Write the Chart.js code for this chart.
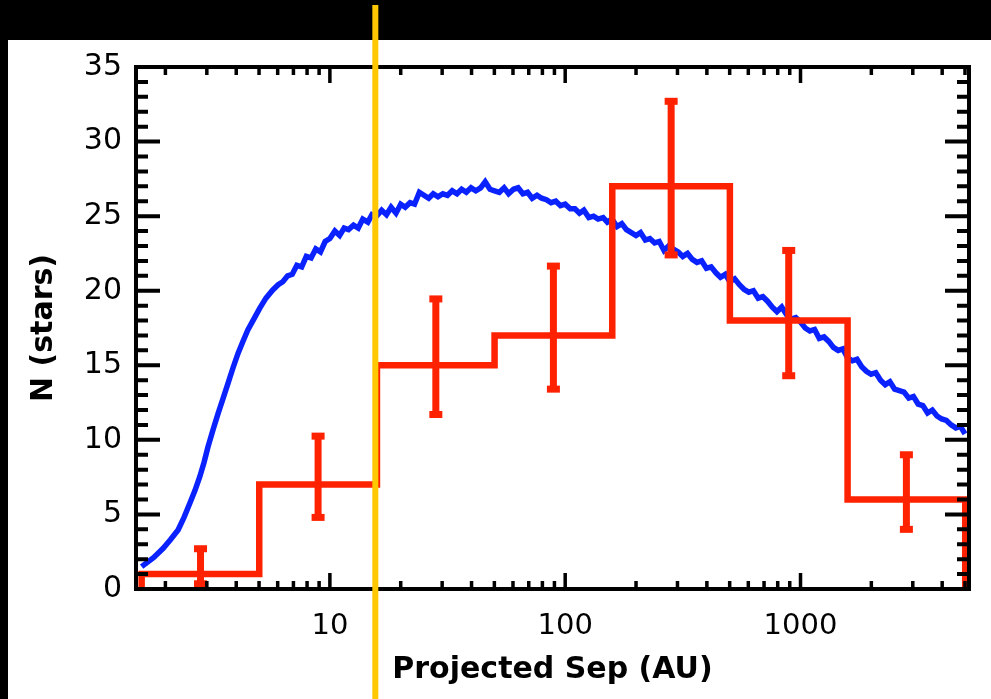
<!DOCTYPE html>
<html>
<head>
<meta charset="utf-8">
<script src="https://cdn.jsdelivr.net/npm/chart.js@4.4.1/dist/chart.umd.min.js"></script>
<style>
  html, body { margin: 0; padding: 0; background: #000; }
  canvas { display: block; }
</style>
</head>
<body>
<canvas id="sepChart" width="991" height="699"></canvas>
<script>
// histogram: bin edges (AU), counts, error bar ends
const binEdges   = [1.585, 5.01, 15.85, 50.1, 158.5, 501, 1585, 5012];
const binCenters = [2.82, 8.91, 28.2, 89.1, 282, 891, 2818];
const binCounts  = [1, 7, 15, 17, 27, 18, 6];
const errLow     = [0.35, 4.8, 11.7, 13.4, 22.4, 14.3, 4.0];
const errHigh    = [2.7, 10.25, 19.45, 21.65, 32.7, 22.7, 9.0];

// model curve (blue)
const modelSep = [
  1.585, 1.78, 1.957, 2.1, 2.264, 2.4, 2.54, 2.67, 2.80, 2.92, 3.035, 3.19, 3.35, 3.52, 3.69,
  3.88, 4.07, 4.27, 4.48, 4.75, 5.03, 5.35, 5.72, 6.03, 6.31, 6.61, 6.92, 7.24, 7.59, 7.94,
  8.32, 8.71, 9.12, 9.55, 10, 10.5, 11.0, 11.5, 12.0, 12.6, 13.2, 13.8, 14.5, 15.1, 15.8,
  16.6, 17.4, 18.2, 19.1, 20.0, 20.9, 21.9, 22.9, 24.0, 25.1, 26.3, 27.5, 28.8, 30.2, 31.6,
  33.1, 34.7, 36.3, 38.0, 39.8, 41.7, 43.7, 45.7, 47.9, 50.1, 52.5, 55.0, 57.5, 60.3, 63.1,
  66.1, 69.2, 72.4, 75.9, 79.4, 83.2, 87.1, 91.2, 95.5, 100, 105, 110, 115, 120, 126,
  132, 138, 145, 151, 158, 166, 174, 182, 191, 200, 209, 219, 229, 240, 251,
  263, 275, 288, 302, 316, 331, 347, 363, 380, 398, 417, 437, 457, 479, 501,
  525, 550, 575, 603, 631, 661, 692, 724, 759, 794, 832, 871, 912, 955, 1000,
  1047, 1096, 1148, 1202, 1259, 1318, 1380, 1445, 1514, 1585, 1660, 1738, 1820, 1905, 1995,
  2089, 2188, 2291, 2399, 2512, 2630, 2754, 2884, 3020, 3162, 3311, 3467, 3631, 3802, 3981,
  4169, 4365, 4571, 4786, 5000
];
const modelN = [
  1.5, 2.1, 2.73, 3.3, 3.96, 4.8, 5.75, 6.6, 7.53, 8.5, 9.54, 10.7, 11.78, 12.8, 13.79,
  14.85, 15.8, 16.6, 17.37, 18.1, 18.82, 19.5, 20.05, 20.4, 20.6, 21.0, 21.1, 21.7, 21.6, 22.3,
  22.2, 22.8, 22.6, 23.3, 23.5, 24.0, 23.7, 24.2, 24.1, 24.4, 24.2, 24.8, 24.6, 25.1, 25.0,
  25.4, 25.1, 25.6, 25.2, 25.8, 25.6, 25.9, 25.8, 26.6, 26.4, 26.2, 26.5, 26.3, 26.5, 26.4,
  26.7, 26.5, 26.8, 26.6, 26.9, 26.7, 26.9, 27.3, 26.8, 26.7, 26.6, 26.9, 26.5, 26.8, 26.9,
  26.5, 26.6, 26.2, 26.4, 26.2, 26.1, 25.9, 26.0, 25.7, 25.8, 25.5, 25.5, 25.2, 25.4, 24.9,
  25.0, 24.8, 24.9, 24.6, 24.8, 24.3, 24.5, 24.1, 23.9, 23.7, 23.9, 23.4, 23.5, 23.2, 23.3,
  22.7, 23.0, 22.8, 22.6, 22.3, 22.5, 22.1, 21.9, 22.0, 21.5, 21.6, 21.2, 20.9, 21.1, 20.6,
  20.8, 20.4, 20.1, 19.9, 20.0, 19.5, 19.6, 19.3, 18.9, 18.6, 18.9, 18.4, 18.1, 18.2, 17.9,
  17.5, 17.3, 17.4, 16.8, 16.9, 16.6, 16.2, 16.0, 16.1, 15.5, 15.3, 15.4, 14.9, 14.6, 14.4,
  14.5, 14.0, 13.7, 13.9, 13.4, 13.3, 13.2, 12.8, 12.9, 12.4, 12.3, 11.8, 12.0, 11.6, 11.4,
  11.3, 11.0, 10.8, 10.9, 10.4
];

// axes
const xMin = 1.5, xMax = 5200;
const yMin = 0, yMax = 35, yStep = 5;
const xTickLabels = [10, 100, 1000];
const cutoffAU = 15.6;   // yellow marker

const RED = '#ff2200', BLUE = '#0a22ff', YELLOW = '#ffc800';

// histogram outline as a stepped line
const histPoints = [{ x: binEdges[0], y: 0 }];
binCounts.forEach((c, i) => histPoints.push({ x: binEdges[i], y: c }));
histPoints.push({ x: binEdges[binEdges.length - 1], y: 0 });

const modelPoints = modelSep.map((s, i) => ({ x: s, y: modelN[i] }));

// black frame with white panel
const panelBg = {
  id: 'panelBg',
  beforeDraw(chart) {
    const ctx = chart.ctx;
    ctx.save();
    ctx.fillStyle = '#000';
    ctx.fillRect(0, 0, chart.width, chart.height);
    ctx.fillStyle = '#fff';
    ctx.fillRect(8, 40, chart.width - 8, chart.height - 40);
    ctx.restore();
  }
};

// error bars + box with inward ticks
const errorAndFrame = {
  id: 'errorAndFrame',
  afterDatasetsDraw(chart) {
    const { ctx, chartArea: a, scales: { x, y } } = chart;
    ctx.save();
    ctx.fillStyle = RED;
    binCenters.forEach((c, i) => {
      const px = x.getPixelForValue(c);
      const top = y.getPixelForValue(errHigh[i]);
      const bot = y.getPixelForValue(errLow[i]);
      ctx.fillRect(px - 3.5, top, 7, bot - top);
      ctx.fillRect(px - 6.5, top - 3.5, 13, 7);
      ctx.fillRect(px - 6.5, bot - 3.5, 13, 7);
    });

    ctx.strokeStyle = '#000';
    ctx.lineWidth = 4;
    ctx.strokeRect(a.left, a.top, a.right - a.left, a.bottom - a.top);

    // y ticks, left and right
    for (let v = yMin; v <= yMax; v++) {
      const py = y.getPixelForValue(v);
      const len = v % yStep === 0 ? 24 : 12;
      ctx.beginPath();
      ctx.moveTo(a.left, py); ctx.lineTo(a.left + len, py);
      ctx.moveTo(a.right, py); ctx.lineTo(a.right - len, py);
      ctx.stroke();
    }
    // x ticks, bottom and top
    ctx.lineWidth = 3.5;
    for (let d = 1; d <= 1000; d *= 10) {
      for (let m = 1; m <= 9; m++) {
        const v = d * m;
        if (v < xMin || v > xMax) continue;
        const px = x.getPixelForValue(v);
        const len = m === 1 ? 16 : 8;
        ctx.beginPath();
        ctx.moveTo(px, a.bottom); ctx.lineTo(px, a.bottom - len);
        ctx.moveTo(px, a.top); ctx.lineTo(px, a.top + len);
        ctx.stroke();
      }
    }
    ctx.restore();
  },
  afterDraw(chart) {
    const { ctx, scales: { x } } = chart;
    const px = x.getPixelForValue(cutoffAU);
    ctx.save();
    ctx.fillStyle = YELLOW;
    ctx.fillRect(px - 3, 5, 6, chart.height - 5);
    ctx.restore();
  }
};

new Chart(document.getElementById('sepChart').getContext('2d'), {
  type: 'line',
  data: {
    datasets: [
      {
        label: 'Observed',
        data: histPoints,
        stepped: true,
        borderColor: RED,
        borderWidth: 6.5,
        pointRadius: 0,
        fill: false
      },
      {
        label: 'Model',
        data: modelPoints,
        borderColor: BLUE,
        borderWidth: 5.5,
        pointRadius: 0,
        tension: 0,
        fill: false
      }
    ]
  },
  options: {
    responsive: false,
    animation: false,
    devicePixelRatio: 1,
    layout: { padding: { left: 0, top: 67, right: 22, bottom: 0 } },
    plugins: { legend: { display: false }, tooltip: { enabled: false } },
    scales: {
      x: {
        type: 'logarithmic',
        min: xMin,
        max: xMax,
        grid: { display: false, drawTicks: false },
        border: { display: false },
        afterBuildTicks: s => { s.ticks = xTickLabels.map(v => ({ value: v })); },
        afterFit: s => { s.height = 110; },
        ticks: {
          color: '#000',
          padding: 20,
          maxRotation: 0,
          font: { family: 'DejaVu Sans', size: 29 },
          callback: v => String(v)
        },
        title: {
          display: true,
          text: 'Projected Sep (AU)',
          color: '#000',
          padding: { top: 0, bottom: 11 },
          font: { family: 'DejaVu Sans', size: 30, weight: 'bold' }
        }
      },
      y: {
        min: yMin,
        max: yMax,
        grid: { display: false, drawTicks: false },
        border: { display: false },
        afterFit: s => { s.width = 136; },
        ticks: {
          stepSize: yStep,
          color: '#000',
          padding: 14,
          font: { family: 'DejaVu Sans', size: 30 }
        },
        title: {
          display: true,
          text: 'N (stars)',
          color: '#000',
          padding: { top: 26, bottom: 0 },
          font: { family: 'DejaVu Sans', size: 30, weight: 'bold' }
        }
      }
    }
  },
  plugins: [panelBg, errorAndFrame]
});
</script>
</body>
</html>
